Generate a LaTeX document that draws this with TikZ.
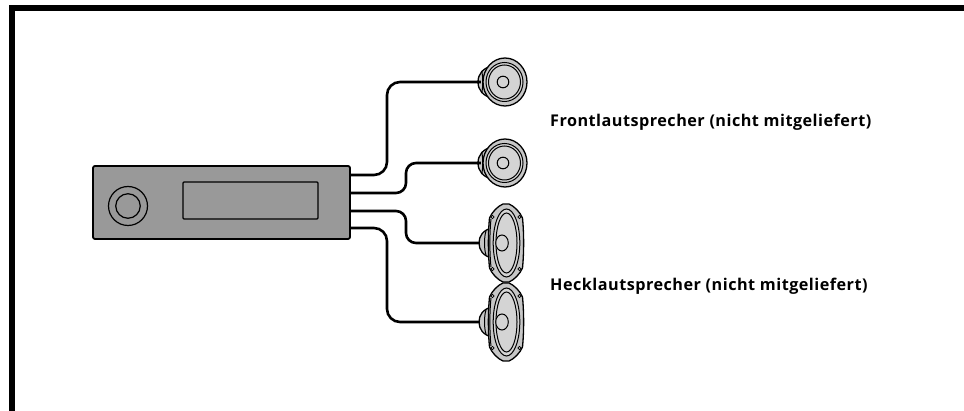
\documentclass[tikz,border=0pt]{standalone}
\usepackage{fontspec}
\setmainfont{Open Sans}[LetterSpace=3]
\definecolor{unitgray}{gray}{0.6}
\definecolor{conegray}{gray}{0.83}
\definecolor{rimgray}{gray}{0.78}
\tikzset{
  frameline/.style={line width=5.6pt,line cap=butt},
  cable/.style={line width=2.6pt,black,rounded corners=13pt},
  outline/.style={draw=black,line width=1.3pt},
  thin part/.style={draw=black,line width=1pt},
  caption/.style={anchor=west,font=\fontsize{16.2}{18}\selectfont\bfseries,inner sep=0pt},
  port/.style={inner sep=0pt,minimum size=0pt}
}
\newcommand{\roundspk}[3]{%
  \begin{scope}[shift={(#1,#2)}]
    \node[port] (#3) at (-24,0) {};
    \filldraw[outline,fill=rimgray] (-13,-16) .. controls (-22,-14) and (-27,-8) .. (-27,0) .. controls (-27,8) and (-22,14) .. (-13,16) -- cycle;
    \draw[thin part] (-23,-10) .. controls (-22,-4) and (-22,4) .. (-23,10);
    \filldraw[outline,fill=rimgray] (0,0) circle[x radius=22,y radius=24];
    \filldraw[thin part,fill=conegray] (-0.5,0) circle[x radius=18.5,y radius=19.5];
    \draw[thin part] (-0.5,0) circle[x radius=16,y radius=17];
    \filldraw[thin part,fill=conegray] (-2,0) circle[radius=5.8];
  \end{scope}}
\newcommand{\ovalspk}[3]{%
  \begin{scope}[shift={(#1,#2)}]
    \node[port] (#3) at (-26,0) {};
    \filldraw[outline,fill=rimgray] (-14,-15) .. controls (-23,-13) and (-27,-7) .. (-27,0) .. controls (-27,7) and (-23,13) .. (-14,15) -- cycle;
    \draw[thin part] (-20,-12) .. controls (-22,-6) and (-22,6) .. (-20,12);
    \filldraw[outline,fill=rimgray] (-3,-39) -- (3,-39) .. controls (8,-37) and (14,-31) .. (16.5,-25) .. controls (18,-10) and (18,10) .. (16.5,25) .. controls (14,31) and (8,37) .. (3,39) -- (-3,39) .. controls (-8,37) and (-14,31) .. (-16.5,25) .. controls (-18,10) and (-18,-10) .. (-16.5,-25) .. controls (-14,-31) and (-8,-37) .. (-3,-39) -- cycle;
    \draw[thin part] (-15,-24) .. controls (-16.5,-10) and (-16.5,10) .. (-15,24);
    \filldraw[thin part,fill=conegray] (0.5,0) circle[x radius=13.3,y radius=34];
    \draw[thin part] (0.5,0) circle[x radius=10.5,y radius=30];
    \filldraw[thin part,fill=conegray] (-4,0) circle[x radius=6.3,y radius=8];
    \foreach \sx/\sy in {-13.5/-26,13.5/-26,-13.5/26,13.5/26}
      \filldraw[draw=black,line width=0.7pt,fill=conegray] (\sx,\sy) circle[radius=1.7];
  \end{scope}}
\begin{document}
\begin{tikzpicture}[x=1pt,y=-1pt]
  \useasboundingbox (0,0) rectangle (964,411);
  \fill[white] (0,0) rectangle (964,411);
  \coordinate (fa) at (12,411);
  \coordinate (fb) at (12,8.2);
  \coordinate (fc) at (964,8.2);
  \draw[frameline] (fa) -- (fb) -- (fc);

  \roundspk{505}{82}{s1}
  \roundspk{505}{163}{s2}
  \ovalspk{506}{243}{s3}
  \ovalspk{506}{322}{s4}

  \node[port] (p1) at (350,175) {};
  \node[port] (p2) at (350,193) {};
  \node[port] (p3) at (350,211) {};
  \node[port] (p4) at (350,228) {};
  \draw[cable] (p1) -- (387,175) -- (387,82) -- (s1);
  \draw[cable,rounded corners=10pt] (p2) -- (406,193) -- (406,163) -- (s2);
  \draw[cable,rounded corners=10pt] (p3) -- (406,211) -- (406,243) -- (s3);
  \draw[cable] (p4) -- (387,228) -- (387,322) -- (s4);

  \node[draw=black,line width=1.8pt,fill=unitgray,rounded corners=2pt,minimum width=257pt,minimum height=73pt,inner sep=0pt] (unit) at (221.5,202.5) {};
  \node[draw=black,line width=1.3pt,rounded corners=1pt,minimum width=135pt,minimum height=37pt,inner sep=0pt] (display) at (250.5,200.5) {};
  \node[circle,draw=black,line width=1.2pt,minimum size=39pt,inner sep=0pt] (knobo) at (128,206) {};
  \node[circle,draw=black,line width=1.2pt,minimum size=24.5pt,inner sep=0pt] (knobi) at (128,206) {};

  \node[caption] (t1) at (550,122) {Frontlautsprecher (nicht mitgeliefert)};
  \node[caption] (t2) at (550,286) {Hecklautsprecher (nicht mitgeliefert)};
\end{tikzpicture}
\end{document}
